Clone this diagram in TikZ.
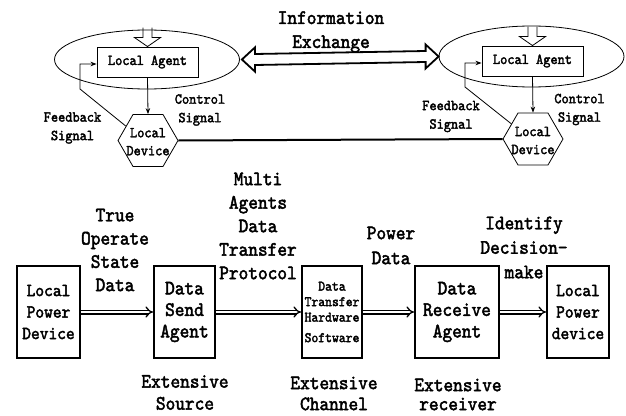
\documentclass[tikz,border=0pt]{standalone}
\usepackage{fontspec}
\newfontfamily\monof[Extension=.otf,FakeStretch=0.9,FakeBold=2.2]{lmmono10-regular}
\usetikzlibrary{shapes.geometric,arrows.meta,calc}

\begin{document}
\begin{tikzpicture}[x=1pt,y=-1pt,
  oval/.style={draw, ellipse, inner sep=0pt, line width=0.8pt, minimum width=185pt},
  agentbox/.style={draw, line width=0.9pt, minimum width=101pt, minimum height=30pt, inner sep=0pt,
    font=\monof\fontsize{15.2}{18}\selectfont},
  hexa/.style={draw, regular polygon, regular polygon sides=6, minimum size=60pt, inner sep=0pt, line width=0.8pt},
  hextext/.style={align=center, inner sep=0pt, font=\monof\fontsize{15.2}{18}\selectfont},
  small/.style={align=center, inner sep=0pt, font=\monof\fontsize{15.2}{18.5}\selectfont},
  big/.style={align=center, inner sep=0pt, font=\monof\fontsize{20.5}{23.5}\selectfont},
  blockbox/.style={draw, line width=2pt, minimum height=92pt, inner sep=0pt, align=center,
    font=\monof\fontsize{20.5}{21.5}\selectfont},
  ctl/.style={-{Stealth[length=6pt,width=4.5pt]}, line width=0.8pt},
  flow/.style={double, double distance=2.4pt, line width=1.3pt, -{Implies}},
]
\useasboundingbox (0,0) rectangle (626,415);

% ---------------- upper part: two agents exchanging information
\node[oval, minimum height=59pt] (eL) at (147,59.5) {};
\node[oval, minimum height=61pt] (eR) at (531.5,56.5) {};

\node[agentbox] (aL) at (147.5,62) {Local Agent};
\node[agentbox] (aR) at (532.5,61) {Local Agent};

% hollow input arrows into each agent
\foreach \a in {aL,aR}{
  \draw[line width=0.8pt] ($(\a.north)+(-4.5,-19)$) -- ($(\a.north)+(-4.5,-9)$)
    -- ($(\a.north)+(-13,-9)$) -- (\a.north) -- ($(\a.north)+(13,-9)$)
    -- ($(\a.north)+(4.5,-9)$) -- ($(\a.north)+(4.5,-19)$);
}

% local devices
\node[hexa] (hL) at (148,140.5) {};
\node[hexa] (hR) at (533,139) {};
\node[hextext] (tL) at (148,141.7) {Local\\Device};
\node[hextext] (tR) at (533,140.5) {Local\\Device};

% control signals
\draw[ctl] (aL.south) -- (hL.north);
\draw[ctl] (aR.south) -- (hR.north);

% feedback signals
\coordinate (fL1) at (80,89);
\coordinate (fL2) at (80,64);
\draw[ctl] (hL.147) -- (fL1) -- (fL2) -- ($(aL.west)+(0,2)$);
\coordinate (fR1) at (465,87);
\coordinate (fR2) at (465,63);
\draw[ctl] (hR.145) -- (fR1) -- (fR2) -- ($(aR.west)+(0,2)$);

% link between the devices
\draw[line width=2pt] (hL.east) -- (hR.west);

% information exchange block arrow
\coordinate (iL) at ($(eL.east)+(2,0)$);
\coordinate (iR) at (eR.west);
\draw[line width=1.8pt, line join=miter]
  (iL) -- ($(iL)+(13,-12)$) -- ($(iL)+(13,-5.5)$) -- ($(iR)+(-13,-5.5)$)
  -- ($(iR)+(-13,-12)$) -- (iR) -- ($(iR)+(-13,12)$) -- ($(iR)+(-13,5.5)$)
  -- ($(iL)+(13,5.5)$) -- ($(iL)+(13,12)$) -- cycle;

\node[big, font=\monof\fontsize{20.5}{24}\selectfont] (info) at (331,32) {Information\\Exchange};

\node[small] (fbL) at (72.5,128) {Feedback\\Signal};
\node[small] (csL) at (200,110) {Control\\Signal};
\node[small] (fbR) at (451,116.5) {Feedback\\Signal};
\node[small] (csR) at (579.5,109.5) {Control\\Signal};

% ---------------- lower part: data transfer chain
\node[blockbox, minimum width=63pt, font=\monof\fontsize{18.5}{21.5}\selectfont] (b1) at (48.5,312) {Local\\Power\\Device};
\node[blockbox, minimum width=61pt] (b2) at (184.5,312) {Data\\Send\\Agent};
\node[blockbox, minimum width=60pt, font=\monof\fontsize{14.5}{15.5}\selectfont] (b3) at (332,312) {Data\\Transfer\\Hardware\\[5pt]Software};
\node[blockbox, minimum width=84pt] (b4) at (457,312) {Data\\Receive\\Agent};
\node[blockbox, minimum width=62pt, font=\monof\fontsize{18.5}{21.5}\selectfont] (b5) at (578,312) {Local\\Power\\device};

\draw[flow] (b1) -- (b2);
\draw[flow] (b2) -- (b3);
\draw[flow] (b3) -- (b4);
\draw[flow] (b4) -- (b5);

\node[big, font=\monof\fontsize{20.5}{23.3}\selectfont] (l1) at (115,250) {True\\Operate\\State\\Data};
\node[big] (l2) at (258,226) {Multi\\Agents\\Data\\Transfer\\Protocol};
\node[big, font=\monof\fontsize{20.5}{25}\selectfont] (l3) at (391,245.5) {Power\\Data};
\node[big, font=\monof\fontsize{20.5}{24.5}\selectfont] (l4) at (524,247.5) {Identify\\Decision-\\make};

\node[big, font=\monof\fontsize{20.5}{22}\selectfont] (x1) at (185,392.5) {Extensive\\Source};
\node[big, font=\monof\fontsize{20.5}{21}\selectfont] (x2) at (334,393.5) {Extensive\\Channel};
\node[big, font=\monof\fontsize{20.5}{19}\selectfont] (x3) at (458,394.5) {Extensive\\receiver};
\end{tikzpicture}
\end{document}
